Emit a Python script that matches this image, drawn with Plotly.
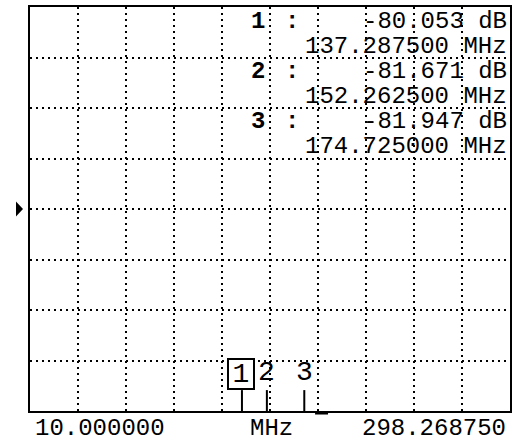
import plotly.graph_objects as go

# Sweep settings
start_mhz = 10.0
stop_mhz = 298.26875
ref_level_db = 0.0
db_per_div = 10.0
n_xdiv = 10
n_ydiv = 8
ref_arrow_db = -40.0

# Marker readouts
marker_ids = [1, 2, 3]
marker_mhz = [137.2875, 152.2625, 174.725]
marker_db = [-80.053, -81.671, -81.947]

# Short bar under the graticule
band_mhz = [181.2, 189.0]

W, H = 519, 441
ML, MR, MT, MB = 30, 9, 5, 30
PW, PH = W - ML - MR, H - MT - MB

bottom_db = ref_level_db - db_per_div * n_ydiv
span = stop_mhz - start_mhz
MONO = "Liberation Mono"
INK = "#000000"


def px_y(y):
    """Screen pixel row -> paper y."""
    return (H - MB - y) / PH


def px_x(x):
    """Screen pixel column -> paper x."""
    return (x - ML) / PW


fig = go.Figure()

# Marker points (sit just under the bottom line of the display)
fig.add_trace(go.Scatter(
    x=marker_mhz, y=marker_db, mode="markers",
    marker=dict(size=1, color=INK), hoverinfo="skip", showlegend=False,
))

stem_db = 21 / PH * (db_per_div * n_ydiv)
shapes = []
annotations = []

# Marker stems and labels at the foot of the screen
for mid, f in zip(marker_ids, marker_mhz):
    shapes.append(dict(type="line", xref="x", yref="y",
                       x0=f, x1=f, y0=bottom_db, y1=bottom_db + stem_db,
                       line=dict(color=INK, width=2)))
    if mid == 1:
        annotations.append(dict(
            x=f, y=bottom_db + stem_db, xref="x", yref="y",
            text=str(mid), showarrow=False, xanchor="center", yanchor="bottom",
            xshift=-1, font=dict(family=MONO, size=28, color=INK),
            bordercolor=INK, borderwidth=2, borderpad=0, width=24, height=28,
            bgcolor="white"))
    else:
        annotations.append(dict(
            x=f, y=bottom_db + stem_db, xref="x", yref="y",
            text=str(mid), showarrow=False, xanchor="center", yanchor="bottom",
            yshift=0, font=dict(family=MONO, size=28, color=INK)))

# Bar under the graticule
shapes.append(dict(type="line", xref="x", yref="paper",
                   x0=band_mhz[0], x1=band_mhz[1], y0=-0.005, y1=-0.005,
                   line=dict(color=INK, width=3)))

# Reference level arrow
ay0 = ref_arrow_db - 7.5 / PH * (db_per_div * n_ydiv)
ay1 = ref_arrow_db + 7.5 / PH * (db_per_div * n_ydiv)
shapes.append(dict(type="path", xref="paper", yref="y",
                   path=f"M {px_x(16)},{ay0} L {px_x(23)},{ref_arrow_db} L {px_x(16)},{ay1} Z",
                   fillcolor=INK, line=dict(color=INK, width=0)))

# Marker readout block, top right
for i, (mid, f, db) in enumerate(zip(marker_ids, marker_mhz, marker_db)):
    y1 = 19.5 + 50.5 * i
    y2 = y1 + 25
    annotations.append(dict(
        x=px_x(258), y=px_y(y1), xref="paper", yref="paper", text=str(mid),
        showarrow=False, xanchor="center", yanchor="middle",
        font=dict(family=MONO, size=24, color=INK, weight="bold")))
    annotations.append(dict(
        x=px_x(292), y=px_y(y1), xref="paper", yref="paper", text=":",
        showarrow=False, xanchor="center", yanchor="middle",
        font=dict(family=MONO, size=24, color=INK, weight="bold")))
    annotations.append(dict(
        x=px_x(509), y=px_y(y1), xref="paper", yref="paper",
        text=f"{db:.3f} dB", showarrow=False, xanchor="right", yanchor="middle",
        font=dict(family=MONO, size=24, color=INK)))
    annotations.append(dict(
        x=px_x(509), y=px_y(y2), xref="paper", yref="paper",
        text=f"{f:.6f} MHz", showarrow=False, xanchor="right", yanchor="middle",
        font=dict(family=MONO, size=24, color=INK)))

# Frequency annotations below the screen
annotations.append(dict(
    x=px_x(33), y=px_y(429), xref="paper", yref="paper", text=f"{start_mhz:.6f}",
    showarrow=False, xanchor="left", yanchor="middle",
    font=dict(family=MONO, size=24, color=INK)))
annotations.append(dict(
    x=px_x(271), y=px_y(429), xref="paper", yref="paper", text="MHz",
    showarrow=False, xanchor="center", yanchor="middle",
    font=dict(family=MONO, size=24, color=INK)))
annotations.append(dict(
    x=px_x(508), y=px_y(429), xref="paper", yref="paper", text=f"{stop_mhz:.6f}",
    showarrow=False, xanchor="right", yanchor="middle",
    font=dict(family=MONO, size=24, color=INK)))

grid = dict(showgrid=True, gridcolor=INK, gridwidth=2, griddash="2px,4px",
            zeroline=False, showticklabels=False, ticks="",
            showline=True, linecolor=INK, linewidth=2, mirror=True, fixedrange=True)

fig.update_layout(
    width=W, height=H,
    margin=dict(l=ML, r=MR, t=MT, b=MB, pad=0),
    paper_bgcolor="white", plot_bgcolor="white",
    xaxis=dict(range=[start_mhz, stop_mhz], tickmode="linear", tick0=start_mhz,
               dtick=span / n_xdiv, **grid),
    yaxis=dict(range=[bottom_db, ref_level_db], tickmode="linear", tick0=bottom_db,
               dtick=db_per_div, **grid),
    shapes=shapes, annotations=annotations, showlegend=False,
)

fig.write_html("out.html", config={"displayModeBar": False})
